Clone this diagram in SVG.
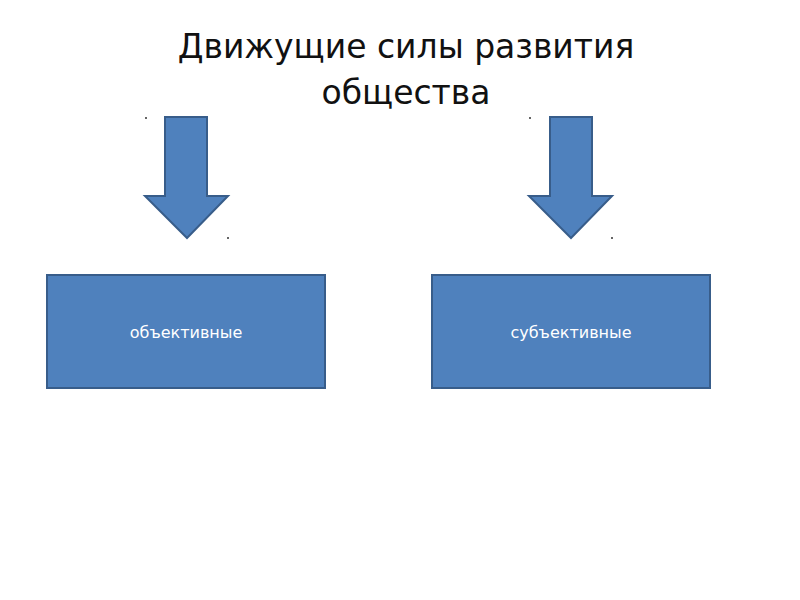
<svg xmlns="http://www.w3.org/2000/svg" width="800" height="600" viewBox="0 0 800 600">
<style>
.a{fill:#4f81bd;stroke:#385d8a;stroke-width:2}
.t{font-family:"DejaVu Sans","Liberation Sans",sans-serif}
.d{fill:#333}
</style>
<rect width="800" height="600" fill="#fff"/>
<text class="t" x="406" y="58" font-size="33" text-anchor="middle" fill="#111">Движущие силы развития</text>
<text class="t" x="406" y="104" font-size="33" text-anchor="middle" fill="#111">общества</text>
<g id="arrows">
<polygon class="a" points="165,117 207,117 207,196 228,196 187,238 145,196 165,196"/>
<polygon class="a" points="550,117 592,117 592,196 612,196 571,238 529,196 550,196"/>
<circle class="d" cx="146" cy="118" r="1"/><circle class="d" cx="228" cy="238" r="1"/>
<circle class="d" cx="530" cy="118" r="1"/><circle class="d" cx="612" cy="238" r="1"/>
</g>
<g id="n1"><rect class="a" x="47" y="275" width="278" height="113"/>
<text class="t" x="186" y="338" font-size="16" fill="#fff" text-anchor="middle">объективные</text></g>
<g id="n2"><rect class="a" x="432" y="275" width="278" height="113"/>
<text class="t" x="571" y="338" font-size="16" fill="#fff" text-anchor="middle">субъективные</text></g>
</svg>
